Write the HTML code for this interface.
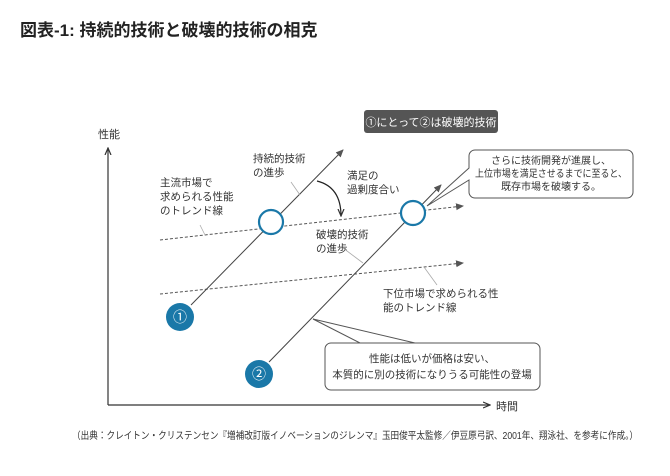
<!DOCTYPE html><html><head><meta charset="utf-8"><style>
body{margin:0;width:670px;height:471px;background:#fff;overflow:hidden;font-family:"Liberation Sans","Noto Sans CJK JP",sans-serif;}
</style></head><body>
<svg width="670" height="471" viewBox="0 0 670 471" xmlns="http://www.w3.org/2000/svg" font-family="Liberation Sans, Noto Sans CJK JP, sans-serif">
<defs><marker id="a" markerWidth="8" markerHeight="8" refX="7" refY="4" orient="auto" markerUnits="userSpaceOnUse"><path d="M0,1 L7,4 L0,7" fill="none" stroke="#333" stroke-width="1.2"/></marker>
<marker id="f" markerWidth="8" markerHeight="8" refX="7" refY="4" orient="auto" markerUnits="userSpaceOnUse"><path d="M0,0.5 L8,4 L0,7.5z" fill="#555"/></marker></defs>
<text x="20" y="36" font-size="17" font-weight="bold" fill="#222">図表-1: 持続的技術と破壊的技術の相克</text>
<text x="98" y="138" font-size="11" fill="#333">性能</text>
<line x1="108" y1="405" x2="108" y2="148" stroke="#333" stroke-width="1.2" marker-end="url(#a)"/>
<line x1="108" y1="405" x2="490" y2="405" stroke="#333" stroke-width="1.2" marker-end="url(#a)"/>
<text x="496" y="410" font-size="11" fill="#333">時間</text>
<line x1="160" y1="240" x2="463" y2="206" stroke="#555" stroke-dasharray="3,2" marker-end="url(#f)"/>
<line x1="160" y1="294" x2="463" y2="263" stroke="#555" stroke-dasharray="3,2" marker-end="url(#f)"/>
<line x1="191" y1="305" x2="343" y2="150" stroke="#444" marker-end="url(#f)"/>
<line x1="269" y1="362" x2="441" y2="185" stroke="#444" marker-end="url(#f)"/>
<circle cx="271" cy="222" r="12" fill="#fff" stroke="#1a78a8" stroke-width="2.2"/>
<circle cx="413" cy="213" r="12" fill="#fff" stroke="#1a78a8" stroke-width="2.2"/>
<circle cx="180" cy="317" r="14" fill="#1a78a8"/><text x="180" y="322" font-size="14" fill="#fff" text-anchor="middle">①</text>
<circle cx="259" cy="374" r="14" fill="#1a78a8"/><text x="259" y="379" font-size="14" fill="#fff" text-anchor="middle">②</text>
<g font-size="10.5" fill="#333">
<text x="253" y="162">持続的技術</text><text x="253" y="176">の進歩</text>
<text x="160" y="186">主流市場で</text><text x="160" y="200">求められる性能</text><text x="160" y="214">のトレンド線</text>
<text x="347" y="179">満足の</text><text x="347" y="193">過剰度合い</text>
<text x="316" y="238">破壊的技術</text><text x="316" y="252">の進歩</text>
<text x="383" y="297">下位市場で求められる性</text><text x="383" y="311">能のトレンド線</text>
</g>
<g stroke="#aaa" stroke-width="0.8" fill="none">
<line x1="291" y1="182" x2="300" y2="195"/><line x1="200" y1="225" x2="205" y2="235"/>
<line x1="343" y1="248" x2="363" y2="263"/><line x1="424" y1="267" x2="437" y2="285"/>
</g>
<path d="M317,181 Q341,187 341,216" fill="none" stroke="#222" stroke-width="1.2" marker-end="url(#a)"/>
<rect x="364" y="110" width="134" height="23" rx="3" fill="#555"/>
<text x="431" y="126" font-size="11" fill="#fff" text-anchor="middle">①にとって②は破壊的技術</text>
<path d="M475,150 H627 a6,6 0 0 1 6,6 V192 a6,6 0 0 1 -6,6 H475 a6,6 0 0 1 -6,-6 V180 L427,206 L469,168 V156 a6,6 0 0 1 6,-6z" fill="#fff" stroke="#555"/>
<g font-size="10" fill="#333" text-anchor="middle"><text x="551" y="164">さらに技術開発が進展し、</text><text x="551" y="177" textLength="152" lengthAdjust="spacingAndGlyphs">上位市場を満足させるまでに至ると、</text><text x="551" y="190">既存市場を破壊する。</text></g>
<path d="M331,343 H415 L313,319 L360,343 H534 a6,6 0 0 1 6,6 V384 a6,6 0 0 1 -6,6 H331 a6,6 0 0 1 -6,-6 V349 a6,6 0 0 1 6,-6z" fill="#fff" stroke="#555"/>
<g font-size="10.5" fill="#333" text-anchor="middle"><text x="432" y="362">性能は低いが価格は安い、</text><text x="432" y="378">本質的に別の技術になりうる可能性の登場</text></g>
<text x="72" y="439" font-size="10" fill="#333" textLength="566" lengthAdjust="spacingAndGlyphs">（出典：クレイトン・クリステンセン『増補改訂版イノベーションのジレンマ』玉田俊平太監修／伊豆原弓訳、2001年、翔泳社、を参考に作成。）</text>
</svg></body></html>
